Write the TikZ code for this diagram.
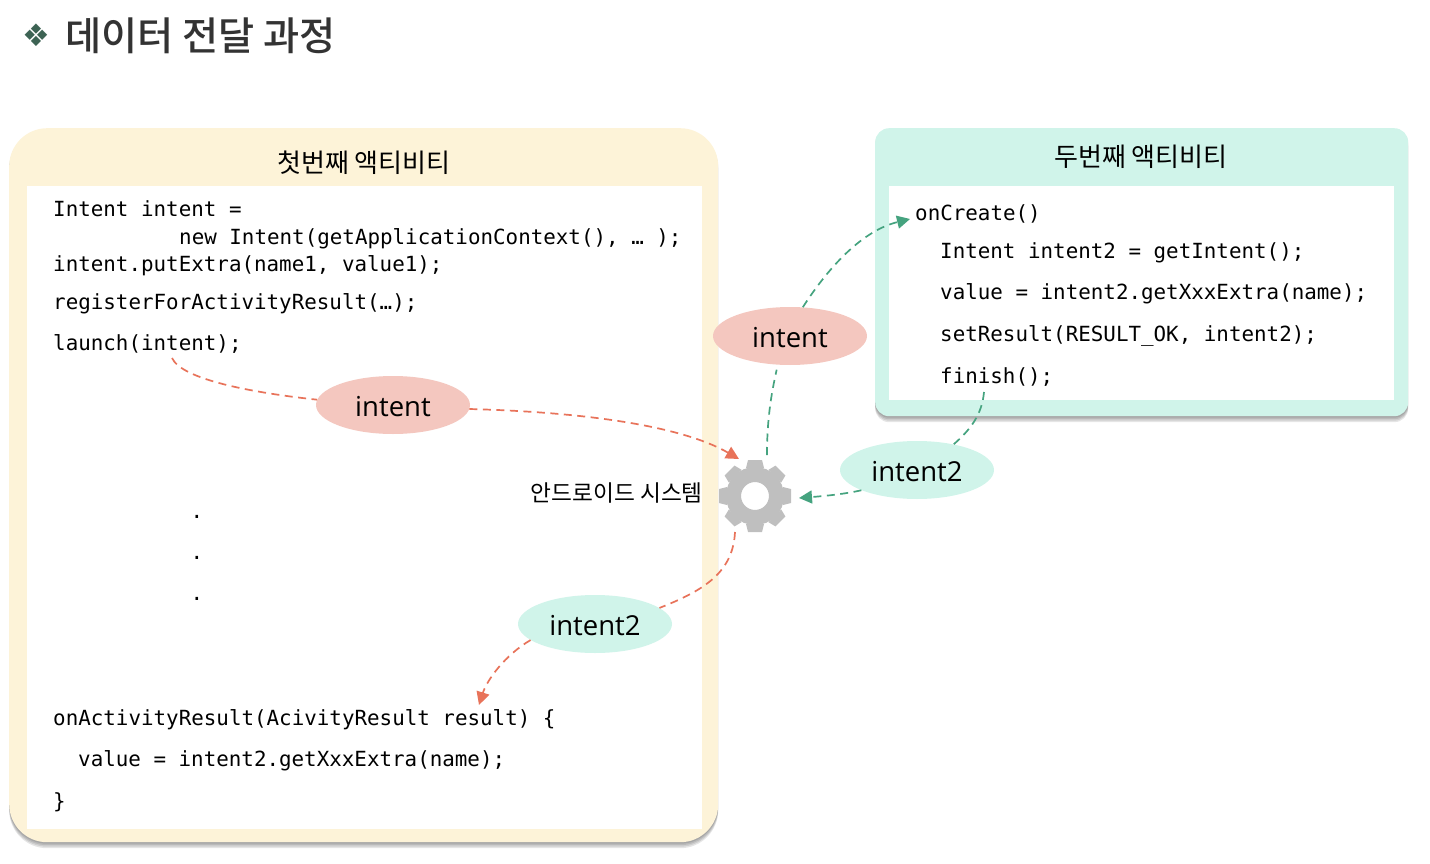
\documentclass[tikz,border=0pt]{standalone}
\usepackage{fontspec}
\setmainfont{Noto Sans CJK KR}
\setmonofont{DejaVu Sans Mono}
\newfontfamily\latinfont{Open Sans}
\newfontfamily\symbolfont{DejaVu Sans}
\newfontfamily\headfont{Noto Sans CJK KR Medium}
\usetikzlibrary{shapes.geometric,shadows,arrows.meta}

\definecolor{panelyellow}{HTML}{FDF3D8}
\definecolor{panelmint}{HTML}{D0F4EA}
\definecolor{bubblepink}{HTML}{F4C7BF}
\definecolor{linered}{HTML}{E8735A}
\definecolor{linegreen}{HTML}{45A37F}
\definecolor{geargray}{HTML}{BFBFBF}
\definecolor{titlegray}{HTML}{333333}
\definecolor{bulletgreen}{HTML}{3D6354}

\tikzset{
  softshadow/.style={drop shadow={shadow xshift=0pt,shadow yshift=#1,opacity=.1,fill=black}},
  panel/.style={inner sep=0pt,anchor=north west,softshadow=-6pt,softshadow=-4.5pt,softshadow=-3pt,softshadow=-1.5pt},
  sheet/.style={inner sep=0pt,anchor=north west,fill=white},
  codeline/.style={inner sep=0pt,anchor=base west,font=\ttfamily\fontsize{20.86}{24}\selectfont},
  boxtitle/.style={inner sep=0pt,font=\fontsize{26}{30}\selectfont},
  bubble/.style={ellipse,inner sep=0pt,minimum width=154pt,minimum height=58pt,text height=23pt,text depth=0pt,font=\latinfont\fontsize{27.5}{32}\selectfont},
  redflow/.style={draw=linered,line width=1.7pt,dash pattern=on 8pt off 5.5pt},
  greenflow/.style={draw=linegreen,line width=1.7pt,dash pattern=on 8pt off 5.5pt},
  flowtip/.style={-{Triangle[length=13pt,width=13pt]}},
}

\newcommand*\codeat[3]{\node [codeline] (#1) at (#2) {#3};}

\begin{document}
\begin{tikzpicture}[x=1pt,y=-1pt]
\useasboundingbox (0,0) rectangle (1430,864);

% title
\node [inner sep=0pt,text=bulletgreen,font=\symbolfont\fontsize{31}{34}\selectfont] (bullet) at (36,35) {❖};
\node [inner sep=0pt,anchor=west,text=titlegray,font=\headfont\fontsize{39.3}{44}\selectfont] (title) at (65,36) {데이터 전달 과정};

% panels
\node [panel,fill=panelyellow,rounded corners=38pt,minimum width=709pt,minimum height=714pt] (first) at (9,128) {};
\node [sheet,minimum width=675pt,minimum height=643pt] (firstsheet) at (27,186) {};
\node [panel,fill=panelmint,rounded corners=14pt,minimum width=533pt,minimum height=288pt] (second) at (875,128) {};
\node [sheet,minimum width=505pt,minimum height=214pt] (secondsheet) at (889,186) {};
\node [boxtitle] (firsttitle) at (364,162.5) {첫번째 액티비티};
\node [boxtitle] (secondtitle) at (1141,156.5) {두번째 액티비티};

% code of the first activity
\codeat{a1}{53,216}{Intent intent =}
\codeat{a2}{179,244}{new Intent(getApplicationContext(), … );}
\codeat{a3}{53,271}{intent.putExtra(name1, value1);}
\codeat{a4}{53,309}{registerForActivityResult(…);}
\codeat{a5}{53,350}{launch(intent);}
\foreach \y [count=\i] in {518,559,600} {
  \node [codeline,anchor=base] (dot\i) at (197,\y) {.};
}
\codeat{a6}{53,725}{onActivityResult(AcivityResult result) \{}
\codeat{a7}{78,766}{value = intent2.getXxxExtra(name);}
\codeat{a8}{53,808}{\}}

% code of the second activity
\codeat{b1}{915,220}{onCreate()}
\codeat{b2}{940,258}{Intent intent2 = getIntent();}
\codeat{b3}{940,299}{value = intent2.getXxxExtra(name);}
\codeat{b4}{940,341}{setResult(RESULT\_OK, intent2);}
\codeat{b5}{940,383}{finish();}

% gear
\foreach \a in {0,45,...,315} {
  \fill [geargray,rotate around={\a:(755,496)}] (746,468) -- (748,460) -- (762,460) -- (764,468) -- cycle;
}
\node [circle,draw=geargray,line width=15pt,fill=white,inner sep=0pt,minimum size=43pt] (gear) at (755,496) {};
\node [inner sep=0pt,anchor=east,font=\fontsize{22.7}{28}\selectfont] (system) at (703,493) {안드로이드 시스템};

% bubbles
\node [bubble,fill=bubblepink] (intentA) at (393,405) {intent};
\node [bubble,fill=bubblepink] (intentB) at (790,336) {intent};
\node [bubble,fill=panelmint] (resultA) at (917,470) {intent2};
\node [bubble,fill=panelmint] (resultB) at (595,624) {intent2};

% free ends of the connectors
\coordinate (launchcall) at (172,358);
\coordinate (gearin) at (739,459);
\coordinate (gearup) at (767,455);
\coordinate (gearout) at (735,532);
\coordinate (gearback) at (799,498);
\coordinate (createcall) at (910,219);
\coordinate (finishcall) at (984,392);
\coordinate (resultcall) at (479,705);

% connectors
\draw [redflow] (launchcall) .. controls (182,380) and (255,393) .. (intentA.176);
\draw [redflow,flowtip] (intentA.357) .. controls (580,412) and (680,425) .. (gearin);
\draw [greenflow,shorten >=5pt] (gearup) .. controls (767,420) and (771,395) .. (intentB.247);
\draw [greenflow,flowtip] (intentB.66) .. controls (832,262) and (865,230) .. (createcall);
\draw [greenflow] (finishcall) .. controls (982,415) and (970,430) .. (resultA.35);
\draw [greenflow,flowtip] (resultA.200) .. controls (845,494) and (825,496) .. (gearback);
\draw [redflow] (gearout) .. controls (733,572) and (705,590) .. (resultB.14);
\draw [redflow,flowtip] (resultB.194) .. controls (505,655) and (487,680) .. (resultcall);
\end{tikzpicture}
\end{document}
